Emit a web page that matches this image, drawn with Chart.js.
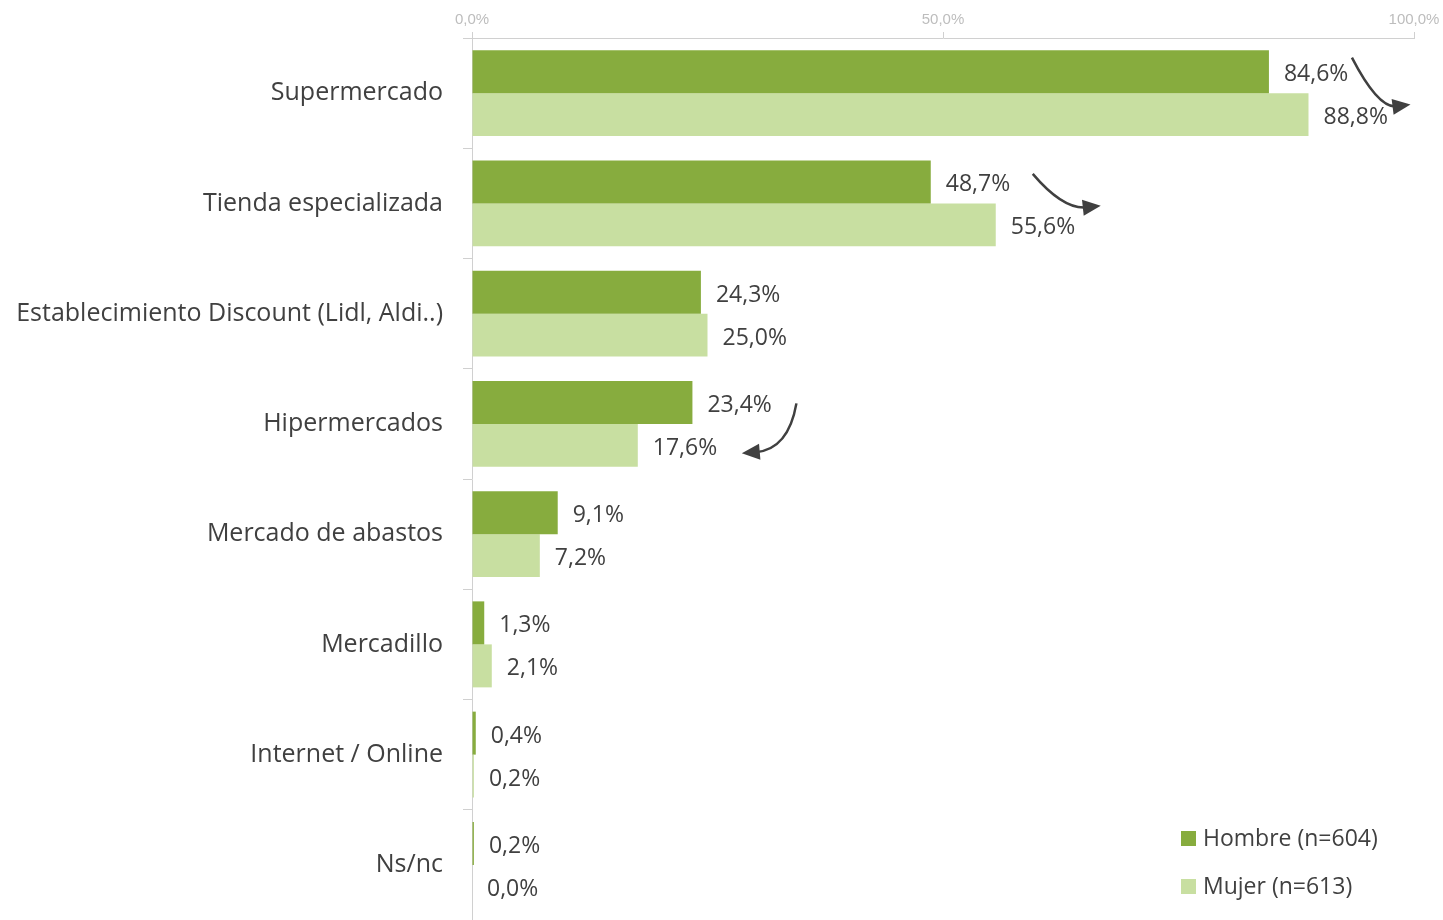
<!DOCTYPE html>
<html><head><meta charset="utf-8">
<script src="https://cdn.jsdelivr.net/npm/chart.js@4.4.1/dist/chart.umd.min.js"></script>
<style>html,body{margin:0;padding:0;background:#fff}#wrap{width:1443px;height:920px}</style>
</head><body><div id="wrap"><canvas id="c" width="1443" height="920"></canvas></div>
<script>
const categories = ['Supermercado','Tienda especializada','Establecimiento Discount (Lidl, Aldi..)','Hipermercados','Mercado de abastos','Mercadillo','Internet / Online','Ns/nc'];
const hombre = [84.6, 48.7, 24.3, 23.4, 9.1, 1.3, 0.4, 0.2];
const mujer  = [88.8, 55.6, 25.0, 17.6, 7.2, 2.1, 0.2, 0.0];
const seriesLabels = ['Hombre (n=604)', 'Mujer (n=613)'];
const xTicks = [0, 50, 100];
const arrowCats = ['Supermercado','Tienda especializada','Hipermercados'];

const FONT = '"Open Sans", "Noto Sans", sans-serif';
const TXT = '#404040';
const fmt = v => v.toFixed(1).replace('.', ',') + '%';

const labelPlugin = {
  id: 'vlabels',
  afterDatasetsDraw(chart) {
    const ctx = chart.ctx;
    ctx.save();
    ctx.font = '23px ' + FONT;
    ctx.fillStyle = TXT;
    ctx.textBaseline = 'middle';
    ctx.textAlign = 'left';
    chart.data.datasets.forEach((ds, di) => {
      chart.getDatasetMeta(di).data.forEach((bar, i) => {
        ctx.fillText(fmt(ds.data[i]), bar.x + 15, bar.y + 3);
      });
    });
    ctx.restore();
  }
};

const arrowPlugin = {
  id: 'arrows',
  afterDatasetsDraw(chart) {
    const ctx = chart.ctx;
    const m0 = chart.getDatasetMeta(0).data, m1 = chart.getDatasetMeta(1).data;
    ctx.save();
    ctx.strokeStyle = '#404040'; ctx.fillStyle = '#404040'; ctx.lineWidth = 2.5;
    arrowCats.forEach(cat => {
      const i = categories.indexOf(cat);
      const h = m0[i], w = m1[i];
      let s, c, e;
      if (mujer[i] >= hombre[i]) {
        s = {x: h.x + 83 + (i ? 19 : 0), y: h.y - (i ? 8 : 14)};
        e = {x: w.x + (i ? 105 : 102), y: w.y - (i ? 19 : 10)};
        c = {x: s.x + (e.x - s.x) * 0.45, y: e.y + 4};
      } else {
        s = {x: h.x + 104, y: h.y + 1};
        e = {x: w.x + 104, y: w.y + 8};
        c = {x: s.x - 8, y: e.y - 4};
      }
      const ang = Math.atan2(e.y - c.y, e.x - c.x);
      const L = 18, W = 8;
      const bx = e.x - L * Math.cos(ang), by = e.y - L * Math.sin(ang);
      ctx.beginPath();
      ctx.moveTo(s.x, s.y);
      ctx.quadraticCurveTo(c.x, c.y, bx + 4 * Math.cos(ang), by + 4 * Math.sin(ang));
      ctx.stroke();
      ctx.beginPath();
      ctx.moveTo(e.x, e.y);
      ctx.lineTo(bx + W * Math.sin(ang), by - W * Math.cos(ang));
      ctx.lineTo(bx - W * Math.sin(ang), by + W * Math.cos(ang));
      ctx.closePath();
      ctx.fill();
    });
    ctx.restore();
  }
};

const legendPlugin = {
  id: 'customLegend',
  afterDraw(chart) {
    const ctx = chart.ctx, a = chart.chartArea;
    ctx.save();
    ctx.font = '23px ' + FONT;
    ctx.textBaseline = 'middle';
    ctx.textAlign = 'left';
    chart.data.datasets.forEach((ds, di) => {
      const y = a.bottom - 82 + di * 48;
      const x = a.right - 233;
      ctx.fillStyle = ds.backgroundColor;
      ctx.fillRect(x, y - 7, 15, 15);
      ctx.fillStyle = TXT;
      ctx.fillText(ds.label, x + 22, y + 1);
    });
    ctx.restore();
  }
};

new Chart(document.getElementById('c'), {
  type: 'bar',
  data: {
    labels: categories,
    datasets: [
      {label: seriesLabels[0], data: hombre, backgroundColor: '#87ac3e', categoryPercentage: 0.78, barPercentage: 1},
      {label: seriesLabels[1], data: mujer, backgroundColor: '#c8dfa1', categoryPercentage: 0.78, barPercentage: 1}
    ]
  },
  options: {
    indexAxis: 'y',
    responsive: false,
    animation: false,
    layout: {autoPadding: false, padding: {left: 0, right: 29, top: 0, bottom: 0}},
    plugins: {legend: {display: false}, tooltip: {enabled: false}},
    scales: {
      x: {
        position: 'top', min: 0, max: 100,
        afterBuildTicks: s => { s.ticks = xTicks.map(v => ({value: v})); },
        afterFit: s => { s.height = 38; s.paddingLeft = 0; s.paddingRight = 0; },
        ticks: {color: '#bdbdbd', font: {family: 'Liberation Sans, Arial, sans-serif', size: 15}, padding: 3,
                callback: v => fmt(v)},
        grid: {drawOnChartArea: false, color: '#d0d0d0', tickLength: 6},
        border: {color: '#d0d0d0'}
      },
      y: {
        afterFit: s => { s.width = 472; s.paddingTop = 0; s.paddingBottom = 0; },
        ticks: {color: TXT, font: {family: FONT, size: 25}, padding: 20},
        grid: {drawOnChartArea: false, offset: true, color: '#d0d0d0', tickLength: 9},
        border: {color: '#d0d0d0'}
      }
    }
  },
  plugins: [labelPlugin, arrowPlugin, legendPlugin]
});
</script></body></html>
